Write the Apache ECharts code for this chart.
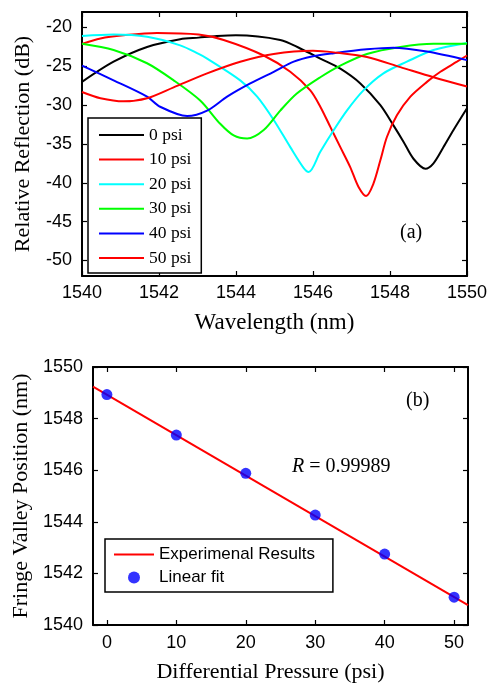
<!DOCTYPE html>
<html>
<head>
<meta charset="utf-8">
<script src="https://cdn.jsdelivr.net/npm/echarts@6/dist/echarts.min.js"></script>
<style>
  html, body { margin: 0; padding: 0; background: #fff; }
  #main { width: 490px; height: 684px; }
</style>
</head>
<body>
<div id="main"></div>
<script>
// (a) reflection spectra, one pair of arrays per pressure
const wl0 = [1540, 1540.82, 1541.69, 1542.55, 1543.03, 1543.5, 1544, 1545.15, 1545.67, 1546.19, 1546.71, 1547.23, 1547.75, 1548.09, 1548.35, 1548.61, 1548.92, 1549.13, 1549.39, 1549.65, 1550]
const db0 = [-27.0, -24.4, -22.5, -21.5, -21.3, -21.1, -21.0, -21.6, -22.7, -24.0, -25.3, -27.2, -30.0, -32.6, -34.7, -36.9, -38.2, -37.5, -35.4, -33.2, -30.4]

const wl10 = [1540, 1540.48, 1541.08, 1541.95, 1543.03, 1543.68, 1544.72, 1545.41, 1545.93, 1546.19, 1546.45, 1546.71, 1546.97, 1547.18, 1547.38, 1547.57, 1547.75, 1547.92, 1548.18, 1548.53, 1548.96, 1549.31, 1549.74, 1550]
const db10 = [-22.1, -21.4, -21.0, -20.7, -20.9, -21.6, -23.6, -25.7, -28.1, -30.2, -32.8, -35.4, -38.0, -40.5, -41.7, -40.1, -37.1, -34.1, -31.3, -28.9, -27.0, -25.7, -24.4, -23.6]

const wl20 = [1540, 1540.82, 1541.69, 1542.55, 1543.03, 1543.25, 1544.11, 1544.55, 1544.98, 1545.41, 1545.76, 1545.89, 1546.19, 1546.54, 1546.88, 1547.31, 1547.83, 1548.44, 1549.13, 1550]
const db20 = [-21.1, -20.9, -21.2, -22.3, -23.4, -24.0, -26.8, -28.9, -31.9, -35.4, -38.1, -38.6, -36.0, -33.2, -30.7, -28.1, -25.9, -24.4, -22.9, -22.0]

const wl30 = [1540, 1540.82, 1541.69, 1542.38, 1543.07, 1543.59, 1543.94, 1544.29, 1544.72, 1545.15, 1545.58, 1546.19, 1546.71, 1547.4, 1548.27, 1549.13, 1550]
const db30 = [-22.1, -22.9, -24.6, -26.8, -29.4, -32.4, -33.9, -34.3, -33.2, -30.7, -28.5, -26.4, -24.9, -23.4, -22.5, -22.1, -22.1]

const wl40 = [1540, 1540.82, 1541.69, 1542.03, 1542.73, 1543.25, 1543.77, 1544.37, 1544.98, 1545.5, 1546, 1546.54, 1547.4, 1548.09, 1548.96, 1550]
const db40 = [-24.9, -26.8, -28.9, -30.2, -31.4, -30.7, -28.9, -27.2, -25.7, -24.4, -23.7, -23.3, -22.8, -22.6, -23.1, -24.2]

const wl50 = [1540, 1540.48, 1541.08, 1541.69, 1542.38, 1543.25, 1544.11, 1544.98, 1546, 1546.54, 1547.4, 1548.27, 1549.13, 1550]
const db50 = [-28.3, -29.1, -29.5, -29.1, -27.7, -25.9, -24.4, -23.4, -23.0, -23.2, -23.8, -25.1, -26.4, -27.6]

const specNames = ['0 psi', '10 psi', '20 psi', '30 psi', '40 psi', '50 psi']
const specColors = ['#000000', '#ff0000', '#00ffff', '#00ff00', '#0000ff', '#ff0000']
const specWl = [wl0, wl10, wl20, wl30, wl40, wl50]
const specDb = [db0, db10, db20, db30, db40, db50]

// (b) valley position vs pressure
const pressure = [0, 10, 20, 30, 40, 50]
const valleyNm = [1548.93, 1547.36, 1545.88, 1544.26, 1542.75, 1541.08]
const fitPressure = [-2, 52]
const fitNm = [1549.24, 1540.77]

const ticksA_y = [-50, -45, -40, -35, -30, -25, -20]
const ticksB_x = [0, 10, 20, 30, 40, 50]

const zip = (a, b) => a.map((v, i) => [v, b[i]])

const sans = 'Liberation Sans'
const serif = 'Liberation Serif'

function boxAxis(grid, pos, extra) {
    // axis with ticks pointing in, black frame line
    return Object.assign({
        type: 'value',
        gridIndex: grid,
        position: pos,
        axisLine: {show: true, onZero: false, lineStyle: {color: '#000', width: 2}},
        axisTick: {show: true, inside: true, length: 5, lineStyle: {color: '#000', width: 1.2}},
        axisLabel: {show: false},
        splitLine: {show: false}
    }, extra)
}

const tickLabel = {show: true, color: '#000', fontFamily: sans, fontSize: 18, formatter: v => String(v)}

const chart = echarts.init(document.getElementById('main'), null, {renderer: 'canvas'})

chart.setOption({
    animation: false,
    backgroundColor: '#fff',
    grid: [
        {left: 82, top: 12, width: 385, height: 264},
        {left: 93, top: 367, width: 375, height: 258}
    ],
    xAxis: [
        boxAxis(0, 'bottom', {
            min: 1540, max: 1550, interval: 2,
            axisLabel: Object.assign({margin: 8}, tickLabel),
            name: 'Wavelength (nm)', nameLocation: 'middle', nameGap: 35,
            nameTextStyle: {color: '#000', fontFamily: serif, fontSize: 23}
        }),
        boxAxis(0, 'top', {min: 1540, max: 1550, interval: 2}),
        boxAxis(1, 'bottom', {
            min: -2, max: 52,
            axisTick: {show: true, inside: true, length: 5, customValues: ticksB_x, lineStyle: {color: '#000', width: 1.2}},
            axisLabel: Object.assign({margin: 9, customValues: ticksB_x}, tickLabel),
            name: 'Differential Pressure (psi)', nameLocation: 'middle', nameGap: 36,
            nameTextStyle: {color: '#000', fontFamily: serif, fontSize: 22, padding: [0, 20, 0, 0]}
        }),
        boxAxis(1, 'top', {
            min: -2, max: 52,
            axisTick: {show: true, inside: true, length: 5, customValues: ticksB_x, lineStyle: {color: '#000', width: 1.2}}
        })
    ],
    yAxis: [
        boxAxis(0, 'left', {
            min: -52, max: -18,
            axisTick: {show: true, inside: true, length: 5, customValues: ticksA_y, lineStyle: {color: '#000', width: 1.2}},
            axisLabel: Object.assign({margin: 10, customValues: ticksA_y}, tickLabel),
            name: 'Relative Reflection (dB)', nameLocation: 'middle', nameGap: 48,
            nameTextStyle: {color: '#000', fontFamily: serif, fontSize: 22}
        }),
        boxAxis(0, 'right', {
            min: -52, max: -18,
            axisTick: {show: true, inside: true, length: 5, customValues: ticksA_y, lineStyle: {color: '#000', width: 1.2}}
        }),
        boxAxis(1, 'left', {
            min: 1540, max: 1550, interval: 2,
            axisLabel: Object.assign({margin: 10}, tickLabel),
            name: 'Fringe Valley Position (nm)', nameLocation: 'middle', nameGap: 59,
            nameTextStyle: {color: '#000', fontFamily: serif, fontSize: 22}
        }),
        boxAxis(1, 'right', {min: 1540, max: 1550, interval: 2})
    ],
    legend: [
        {
            data: specNames,
            orient: 'vertical', left: 88, top: 118,
            itemWidth: 45, itemHeight: 14, itemGap: 6.6,
            padding: [8, 10, 6, 10],
            borderColor: '#000', borderWidth: 1.5, backgroundColor: '#fff',
            selectedMode: false,
            itemStyle: {opacity: 0},
            textStyle: {color: '#000', fontFamily: serif, fontSize: 17.5}
        },
        {
            data: [{name: 'Experimenal Results', itemStyle: {opacity: 0}}, {name: 'Linear fit'}],
            orient: 'vertical', left: 105, top: 539,
            itemWidth: 40, itemHeight: 12, itemGap: 6,
            padding: [7, 18, 6, 8],
            borderColor: '#000', borderWidth: 1.5, backgroundColor: '#fff',
            selectedMode: false,
            textStyle: {color: '#000', fontFamily: sans, fontSize: 17}
        }
    ],
    series: specNames.map((n, i) => ({
        name: n,
        type: 'line',
        xAxisIndex: 0, yAxisIndex: 0,
        data: zip(specWl[i], specDb[i]),
        smooth: 0.3,
        symbol: 'none',
        color: specColors[i],
        lineStyle: {width: 2, color: specColors[i]}
    })).concat([
        {
            name: 'Experimenal Results',
            type: 'line',
            xAxisIndex: 2, yAxisIndex: 2,
            data: zip(fitPressure, fitNm),
            symbol: 'none',
            color: '#ff0000',
            lineStyle: {width: 2, color: '#ff0000'}
        },
        {
            name: 'Linear fit',
            type: 'scatter',
            xAxisIndex: 2, yAxisIndex: 2,
            data: zip(pressure, valleyNm),
            symbol: 'circle', symbolSize: 11,
            itemStyle: {color: '#0000ff'},
            z: 5
        }
    ]),
    graphic: [
        {type: 'text', left: 400, top: 223, style: {text: '(a)', font: '20px "Liberation Serif"', fill: '#000'}},
        {type: 'text', left: 406, top: 391, style: {text: '(b)', font: '20px "Liberation Serif"', fill: '#000'}},
        {type: 'text', left: 292, top: 457, style: {
            text: '{i|R} = 0.99989', font: '20px "Liberation Serif"', fill: '#000',
            rich: {i: {fontStyle: 'italic', fontFamily: serif, fontSize: 20}}
        }}
    ]
})
</script>
</body>
</html>
